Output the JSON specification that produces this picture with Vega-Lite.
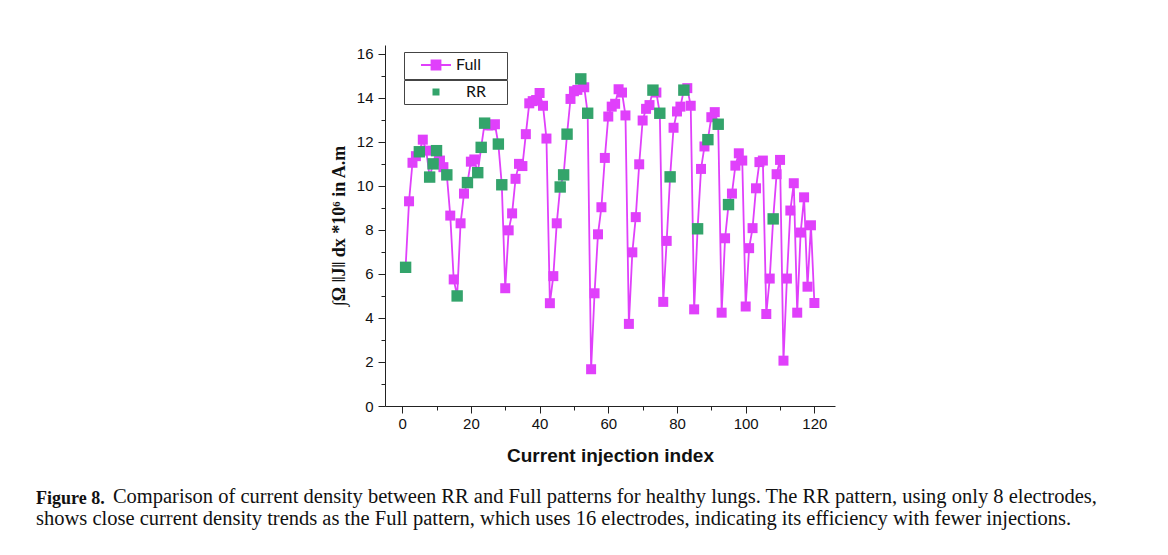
{
  "$schema": "https://vega.github.io/schema/vega-lite/v6.json",
  "width": 450,
  "height": 361,
  "autosize": {"type": "none"},
  "padding": {"left": 385, "top": 45, "right": 333, "bottom": 149},
  "background": "white",
  "config": {"view": {"stroke": null}, "font": "Liberation Sans"},
  "title": {
    "text": "Figure 8.",
    "subtitle": ["\u200b\u00a0\u00a0\u00a0\u00a0\u00a0\u00a0\u00a0\u00a0\u00a0\u00a0\u00a0\u00a0\u00a0\u00a0\u00a0Comparison of current density between RR and Full patterns for healthy lungs. The RR pattern, using only 8 electrodes,", "shows close current density trends as the Full pattern, which uses 16 electrodes, indicating its efficiency with fewer injections."],
    "orient": "bottom",
    "anchor": "start",
    "frame": "group",
    "dx": -349,
    "offset": 25,
    "font": "Liberation Serif",
    "fontSize": 18,
    "fontWeight": "bold",
    "color": "#111",
    "subtitleFont": "Liberation Serif",
    "subtitleFontSize": 20.5,
    "subtitleFontWeight": "normal",
    "subtitleColor": "#111",
    "subtitlePadding": -21,
    "subtitleLineHeight": 22
  },
  "datasets": {
    "full": [
      {"i":1,"v":6.3,"series":"Full"},{"i":2,"v":9.3,"series":"Full"},{"i":3,"v":11.05,"series":"Full"},{"i":4,"v":11.35,"series":"Full"},{"i":5,"v":11.55,"series":"Full"},
      {"i":6,"v":12.1,"series":"Full"},{"i":7,"v":11.6,"series":"Full"},{"i":8,"v":10.4,"series":"Full"},{"i":9,"v":11.0,"series":"Full"},{"i":10,"v":11.6,"series":"Full"},
      {"i":11,"v":11.15,"series":"Full"},{"i":12,"v":10.85,"series":"Full"},{"i":13,"v":10.5,"series":"Full"},{"i":14,"v":8.65,"series":"Full"},{"i":15,"v":5.75,"series":"Full"},
      {"i":16,"v":5.0,"series":"Full"},{"i":17,"v":8.3,"series":"Full"},{"i":18,"v":9.65,"series":"Full"},{"i":19,"v":10.15,"series":"Full"},{"i":20,"v":11.1,"series":"Full"},
      {"i":21,"v":11.2,"series":"Full"},{"i":22,"v":10.6,"series":"Full"},{"i":23,"v":11.75,"series":"Full"},{"i":24,"v":12.85,"series":"Full"},{"i":25,"v":12.75,"series":"Full"},
      {"i":26,"v":12.75,"series":"Full"},{"i":27,"v":12.8,"series":"Full"},{"i":28,"v":11.9,"series":"Full"},{"i":29,"v":10.05,"series":"Full"},{"i":30,"v":5.35,"series":"Full"},
      {"i":31,"v":7.98,"series":"Full"},{"i":32,"v":8.75,"series":"Full"},{"i":33,"v":10.32,"series":"Full"},{"i":34,"v":11.0,"series":"Full"},{"i":35,"v":10.9,"series":"Full"},
      {"i":36,"v":12.35,"series":"Full"},{"i":37,"v":13.75,"series":"Full"},{"i":38,"v":13.85,"series":"Full"},{"i":39,"v":13.9,"series":"Full"},{"i":40,"v":14.22,"series":"Full"},
      {"i":41,"v":13.64,"series":"Full"},{"i":42,"v":12.15,"series":"Full"},{"i":43,"v":4.67,"series":"Full"},{"i":44,"v":5.9,"series":"Full"},{"i":45,"v":8.3,"series":"Full"},
      {"i":46,"v":9.95,"series":"Full"},{"i":47,"v":10.5,"series":"Full"},{"i":48,"v":12.35,"series":"Full"},{"i":49,"v":13.95,"series":"Full"},{"i":50,"v":14.3,"series":"Full"},
      {"i":51,"v":14.36,"series":"Full"},{"i":52,"v":14.86,"series":"Full"},{"i":53,"v":14.48,"series":"Full"},{"i":54,"v":13.3,"series":"Full"},{"i":55,"v":1.67,"series":"Full"},
      {"i":56,"v":5.12,"series":"Full"},{"i":57,"v":7.8,"series":"Full"},{"i":58,"v":9.03,"series":"Full"},{"i":59,"v":11.27,"series":"Full"},{"i":60,"v":13.15,"series":"Full"},
      {"i":61,"v":13.6,"series":"Full"},{"i":62,"v":13.73,"series":"Full"},{"i":63,"v":14.39,"series":"Full"},{"i":64,"v":14.24,"series":"Full"},{"i":65,"v":13.2,"series":"Full"},
      {"i":66,"v":3.73,"series":"Full"},{"i":67,"v":6.98,"series":"Full"},{"i":68,"v":8.58,"series":"Full"},{"i":69,"v":10.98,"series":"Full"},{"i":70,"v":12.97,"series":"Full"},
      {"i":71,"v":13.5,"series":"Full"},{"i":72,"v":13.67,"series":"Full"},{"i":73,"v":14.35,"series":"Full"},{"i":74,"v":14.24,"series":"Full"},{"i":75,"v":13.3,"series":"Full"},
      {"i":76,"v":4.73,"series":"Full"},{"i":77,"v":7.5,"series":"Full"},{"i":78,"v":10.41,"series":"Full"},{"i":79,"v":12.64,"series":"Full"},{"i":80,"v":13.38,"series":"Full"},
      {"i":81,"v":13.6,"series":"Full"},{"i":82,"v":14.35,"series":"Full"},{"i":83,"v":14.44,"series":"Full"},{"i":84,"v":13.64,"series":"Full"},{"i":85,"v":4.39,"series":"Full"},
      {"i":86,"v":8.05,"series":"Full"},{"i":87,"v":10.77,"series":"Full"},{"i":88,"v":11.79,"series":"Full"},{"i":89,"v":12.1,"series":"Full"},{"i":90,"v":13.12,"series":"Full"},
      {"i":91,"v":13.35,"series":"Full"},{"i":92,"v":12.8,"series":"Full"},{"i":93,"v":4.24,"series":"Full"},{"i":94,"v":7.62,"series":"Full"},{"i":95,"v":9.15,"series":"Full"},
      {"i":96,"v":9.65,"series":"Full"},{"i":97,"v":10.92,"series":"Full"},{"i":98,"v":11.48,"series":"Full"},{"i":99,"v":11.15,"series":"Full"},{"i":100,"v":4.52,"series":"Full"},
      {"i":101,"v":7.17,"series":"Full"},{"i":102,"v":8.08,"series":"Full"},{"i":103,"v":9.89,"series":"Full"},{"i":104,"v":11.08,"series":"Full"},{"i":105,"v":11.15,"series":"Full"},
      {"i":106,"v":4.18,"series":"Full"},{"i":107,"v":5.79,"series":"Full"},{"i":108,"v":8.5,"series":"Full"},{"i":109,"v":10.53,"series":"Full"},{"i":110,"v":11.18,"series":"Full"},
      {"i":111,"v":2.06,"series":"Full"},{"i":112,"v":5.79,"series":"Full"},{"i":113,"v":8.88,"series":"Full"},{"i":114,"v":10.12,"series":"Full"},{"i":115,"v":4.24,"series":"Full"},
      {"i":116,"v":7.88,"series":"Full"},{"i":117,"v":9.48,"series":"Full"},{"i":118,"v":5.42,"series":"Full"},{"i":119,"v":8.21,"series":"Full"},{"i":120,"v":4.68,"series":"Full"}
    ],
    "rr": [
      {"i":1,"v":6.3,"pattern":"RR"},{"i":5,"v":11.55,"pattern":"RR"},{"i":8,"v":10.4,"pattern":"RR"},{"i":9,"v":11.0,"pattern":"RR"},{"i":10,"v":11.6,"pattern":"RR"},
      {"i":13,"v":10.5,"pattern":"RR"},{"i":16,"v":5.0,"pattern":"RR"},{"i":19,"v":10.15,"pattern":"RR"},{"i":22,"v":10.6,"pattern":"RR"},{"i":23,"v":11.75,"pattern":"RR"},
      {"i":24,"v":12.85,"pattern":"RR"},{"i":28,"v":11.9,"pattern":"RR"},{"i":29,"v":10.05,"pattern":"RR"},{"i":46,"v":9.95,"pattern":"RR"},{"i":47,"v":10.5,"pattern":"RR"},
      {"i":48,"v":12.35,"pattern":"RR"},{"i":52,"v":14.86,"pattern":"RR"},{"i":54,"v":13.3,"pattern":"RR"},{"i":73,"v":14.35,"pattern":"RR"},{"i":75,"v":13.3,"pattern":"RR"},
      {"i":78,"v":10.41,"pattern":"RR"},{"i":82,"v":14.35,"pattern":"RR"},{"i":86,"v":8.05,"pattern":"RR"},{"i":89,"v":12.1,"pattern":"RR"},{"i":92,"v":12.8,"pattern":"RR"},
      {"i":95,"v":9.15,"pattern":"RR"},{"i":108,"v":8.5,"pattern":"RR"}
    ]
  },
  "layer": [
    {
      "data": {"name": "full"},
      "mark": {"type": "line", "strokeWidth": 1.8, "point": {"shape": "square", "size": 100, "filled": true, "opacity": 1}},
      "encoding": {
        "x": {"field": "i", "type": "quantitative", "scale": {"domain": [-5, 126], "nice": false, "zero": false},
          "axis": {"values": [0,20,40,60,80,100,120], "orient": "bottom", "grid": false, "tickSize": 7, "tickColor": "#222", "domainColor": "#222", "labelFontSize": 15, "labelColor": "#111", "labelPadding": 3, "title": "Current injection index", "titleFontSize": 19, "titleFontWeight": "bold", "titleColor": "#111", "titlePadding": 15}},
        "y": {"field": "v", "type": "quantitative", "scale": {"domain": [0, 16.4], "nice": false},
          "axis": {"values": [0,2,4,6,8,10,12,14,16], "orient": "left", "grid": false, "tickSize": 7, "tickColor": "#222", "domainColor": "#222", "labelFontSize": 15, "labelColor": "#111", "labelPadding": 5, "title": "∫Ω ‖J‖ dx  *10⁶ in A.m", "titleFont": "Liberation Serif", "titleFontSize": 18, "titleFontWeight": "bold", "titleColor": "#111", "titlePadding": 8}},
        "color": {"field": "series", "type": "nominal", "scale": {"domain": ["Full"], "range": ["#e040fb"]},
          "legend": {"orient": "none", "legendX": 19, "legendY": 7, "title": null, "strokeColor": "#444", "padding": 5,
            "symbolType": "M0.667,0H5.667M2.417,-0.75H3.917V0.75H2.417Z", "symbolSize": 144, "symbolStrokeWidth": 1.8,
            "labelFont": "Lato", "labelFontSize": 16, "labelColor": "#111", "labelOffset": 31, "labelExpr": "datum.label + '\u00a0\u00a0\u00a0\u00a0\u00a0\u200b'",
            "encode": {"symbols": {"update": {"fill": {"value": "#e040fb"}, "stroke": {"value": "#e040fb"}, "strokeWidth": {"value": 1.8}, "opacity": {"value": 1}}}}}}
      }
    },
    {
      "data": {"name": "rr"},
      "mark": {"type": "point", "shape": "square", "size": 130, "filled": true, "opacity": 1},
      "encoding": {
        "x": {"field": "i", "type": "quantitative",
          "axis": {"values": [10,30,50,70,90,110], "orient": "bottom", "grid": false, "tickSize": 4, "tickColor": "#222", "domain": false, "labels": false, "title": null}},
        "y": {"field": "v", "type": "quantitative",
          "axis": {"values": [1,3,5,7,9,11,13,15], "orient": "left", "grid": false, "tickSize": 4, "tickColor": "#222", "domain": false, "labels": false, "title": null}},
        "fill": {"field": "pattern", "type": "nominal", "scale": {"domain": ["RR"], "range": ["#33a46b"]},
          "legend": {"orient": "none", "legendX": 19, "legendY": 35, "title": null, "strokeColor": "#444", "padding": 4,
            "symbolType": "M2.75,-0.583H3.917V0.583H2.75Z", "symbolSize": 144,
            "labelFont": "Lato", "labelFontSize": 16, "labelColor": "#111", "labelOffset": 42, "labelExpr": "datum.label + '\u00a0\u00a0\u00a0\u00a0\u200b'",
            "encode": {"symbols": {"update": {"fill": {"value": "#33a46b"}, "stroke": {"value": "#33a46b"}, "strokeWidth": {"value": 0}, "opacity": {"value": 1}}}}}}
      }
    }
  ],
  "resolve": {"axis": {"x": "independent", "y": "independent"}}
}
